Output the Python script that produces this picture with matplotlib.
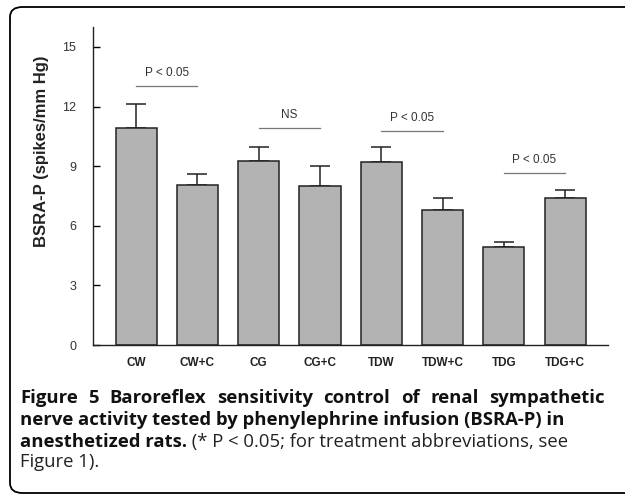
import matplotlib.pyplot as plt
import numpy as np
from matplotlib.patches import FancyBboxPatch

# Datos
grupos = ["CW", "CW+C", "CG", "CG+C", "TDW", "TDW+C", "TDG", "TDG+C"]
bsra_p = [10.92, 8.05, 9.28, 8.0, 9.19, 6.78, 4.95, 7.41]
sem = [1.19, 0.54, 0.68, 1.02, 0.79, 0.60, 0.23, 0.39]

# comparaciones: (indice izq, altura linea, texto)
comparaciones = [(0, 13.03, "P < 0.05"), (2, 10.92, "NS"), (4, 10.77, "P < 0.05"), (6, 8.64, "P < 0.05")]

caption_bold = ["Figure 5 Baroreflex sensitivity control of renal sympathetic",
                "nerve activity tested by phenylephrine infusion (BSRA-P) in",
                "anesthetized rats."]
caption_reg = [" (* P < 0.05; for treatment abbreviations, see", "Figure 1)."]

fig = plt.figure(figsize=(6.25, 4.97), dpi=100)
W, H = 625, 497

# marco redondeado
marco = FancyBboxPatch((10 / W, 4 / H), 700 / W, 486 / H, boxstyle="round,pad=0,rounding_size=0.02",
                       transform=fig.transFigure, fill=False, edgecolor="black", linewidth=1.3)
fig.patches.append(marco)

ax = fig.add_axes([93 / W, (497 - 345) / H, (608 - 93) / W, (345 - 27) / H])
x = np.arange(len(grupos))
ax.bar(x, bsra_p, width=0.67, color="#b3b3b3", edgecolor="#222222", linewidth=1.1, zorder=2)
ax.errorbar(x, bsra_p, yerr=[np.zeros(len(sem)), sem], fmt="none", ecolor="#222222",
            elinewidth=1.1, capsize=7.5, capthick=1.1, zorder=1)

for i, h, txt in comparaciones:
    ax.plot([i, i + 1], [h, h], color="#777777", linewidth=0.9)
    ax.text(i + 0.5, h + 0.67, txt, ha="center", va="center", fontsize=8.5,
            color="#333333", family="Liberation Sans")

ax.set_xlim(-0.705, 7.70)
ax.set_ylim(0, 16.0)
ax.set_yticks([0, 3, 6, 9, 12, 15])
ax.set_xticks(x)
ax.set_xticklabels(grupos, fontsize=8.5, fontweight="bold", family="Liberation Sans")
for lbl in ax.get_yticklabels():
    lbl.set_family("Liberation Sans")
ax.tick_params(axis="y", direction="in", length=5, width=1, labelsize=9, pad=12, labelcolor="#333333")
ax.tick_params(axis="x", length=0, pad=9, labelcolor="#222222")
for s in ["top", "right"]:
    ax.spines[s].set_visible(False)
for s in ["left", "bottom"]:
    ax.spines[s].set_linewidth(1.0)
    ax.spines[s].set_color("#222222")

fig.text(42 / W, 1 - 151 / H, "BSRA-P (spikes/mm Hg)", rotation=90, ha="center", va="center",
         fontsize=12, fontweight="bold", family="Liberation Sans", color="#222222")

# leyenda de la figura
fs = 13.3
ys = [403, 425, 447, 467]  # lineas base
r = fig.canvas.get_renderer()

# primera linea justificada (palabra por palabra)
palabras = caption_bold[0].split()
objs = [fig.text(0, 1 - ys[0] / H, p, ha="left", va="baseline", fontsize=fs,
                 fontweight="bold", family="Open Sans", color="#111111") for p in palabras]
anchos = [o.get_window_extent(renderer=r).width for o in objs]
hueco = ((605 - 20) - sum(anchos)) / (len(palabras) - 1)
xpos = 20
for o, a in zip(objs, anchos):
    o.set_x(xpos / W)
    xpos += a + hueco

for k in [1, 2]:
    t = fig.text(20 / W, 1 - ys[k] / H, caption_bold[k], ha="left", va="baseline", fontsize=fs,
                 fontweight="bold", family="Open Sans", color="#111111")
bb = t.get_window_extent(renderer=r)
fig.text(bb.x1 / W, 1 - ys[2] / H, caption_reg[0], ha="left", va="baseline", fontsize=fs,
         family="Open Sans", color="#222222")
fig.text(20 / W, 1 - ys[3] / H, caption_reg[1], ha="left", va="baseline", fontsize=fs,
         family="Open Sans", color="#222222")

fig.savefig("out.png", dpi=100)
